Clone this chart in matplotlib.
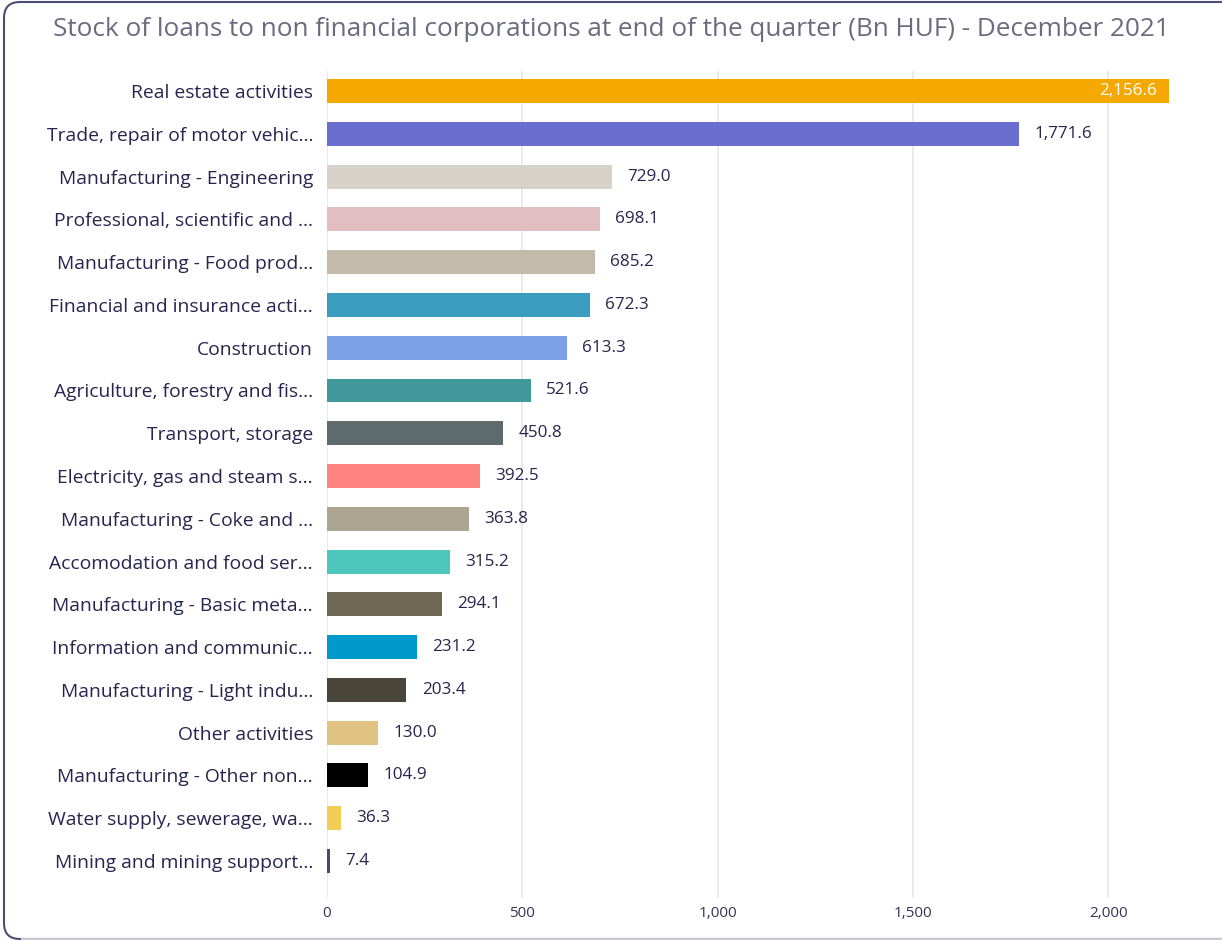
import matplotlib.pyplot as plt
from matplotlib.patches import FancyBboxPatch
from matplotlib.lines import Line2D
from matplotlib.transforms import IdentityTransform

# datos del grafico
sectores = [
    "Real estate activities",
    "Trade, repair of motor vehic...",
    "Manufacturing - Engineering",
    "Professional, scientific and ...",
    "Manufacturing - Food prod...",
    "Financial and insurance acti...",
    "Construction",
    "Agriculture, forestry and fis...",
    "Transport, storage",
    "Electricity, gas and steam s...",
    "Manufacturing - Coke and ...",
    "Accomodation and food ser...",
    "Manufacturing - Basic meta...",
    "Information and communic...",
    "Manufacturing - Light indu...",
    "Other activities",
    "Manufacturing - Other non...",
    "Water supply, sewerage, wa...",
    "Mining and mining support...",
]
prestamos = [2156.6, 1771.6, 729.0, 698.1, 685.2, 672.3, 613.3, 521.6, 450.8,
             392.5, 363.8, 315.2, 294.1, 231.2, 203.4, 130.0, 104.9, 36.3, 7.4]
colores = ["#F5A800", "#6A6ECF", "#D6D2C8", "#E0BEC2", "#C4BAAA", "#3A9CBE",
           "#7BA0E6", "#41999C", "#5E6B6C", "#FE8582", "#ADA48F", "#4DC6BC",
           "#6F6752", "#0099CC", "#4A4539", "#E0C283", "#000000", "#F2CC55",
           "#4A4A70"]
ticks_x = [0, 500, 1000, 1500, 2000]

plt.rcParams['font.family'] = ['Open Sans', 'DejaVu Sans']
texto = "#252550"

fig = plt.figure(figsize=(12.22, 9.40), dpi=100)

# marco redondeado en pixeles; el lado derecho queda fuera de la imagen
marco = FancyBboxPatch((4, 1), 1300, 937,
                       boxstyle="round,pad=0,rounding_size=16",
                       transform=IdentityTransform(), facecolor="none",
                       edgecolor="#4e4e74", linewidth=1.5, zorder=-1)
fig.patches.append(marco)
# borde inferior mas claro
fig.lines.append(Line2D([22, 1222], [1, 1], transform=IdentityTransform(),
                        color="#c9c9d3", linewidth=1.6))

fig.text(0.5, 0.969, "Stock of loans to non financial corporations at end of the quarter (Bn HUF) - December 2021",
         ha="center", va="center", fontsize=18.85, color="#6b6b80")

ax = fig.add_axes([0.2676, 0.0447, 0.7070, 0.8798])
ax.set_facecolor("none")
pos = list(range(len(sectores)))
ax.barh(pos, prestamos, height=0.56, color=colores, zorder=2)
ax.set_ylim(18.865, -0.47)
ax.set_xlim(0, 2212)
ax.set_yticks(pos)
ax.set_yticklabels(sectores, fontsize=13.9, color=texto)
ax.set_xticks(ticks_x)
ax.set_xticklabels([f"{t:,}" for t in ticks_x], fontsize=11, color="#333355")
ax.tick_params(length=0, pad=10, axis="y")
ax.tick_params(length=0, pad=6, axis="x")
ax.grid(axis="x", color="#e6e6e6", linewidth=1.2, zorder=0)
for s in ax.spines.values():
    s.set_visible(False)

for i, v in enumerate(prestamos):
    if i == 0:
        ax.annotate(f"{v:,.1f}", (v, i), xytext=(-8.6, 0), textcoords="offset points",
                    ha="right", va="center", fontsize=12.3, color="white")
    else:
        ax.annotate(f"{v:,.1f}", (v, i), xytext=(11, 0), textcoords="offset points",
                    ha="left", va="center", fontsize=12.3, color=texto)

fig.savefig("out.png", dpi=100)
